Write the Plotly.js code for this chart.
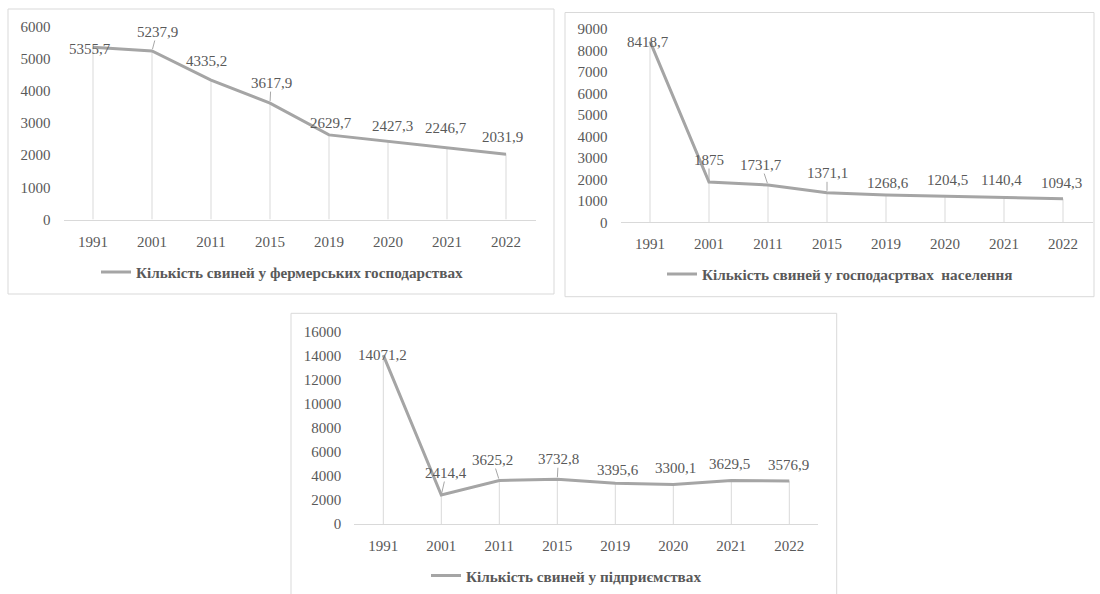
<!DOCTYPE html>
<html>
<head>
<meta charset="utf-8">
<script src="https://cdn.plot.ly/plotly-3.0.1.min.js"></script>
<style>
  html, body { margin: 0; padding: 0; background: #ffffff; }
  #chart { width: 1100px; height: 594px; }
</style>
</head>
<body>
<div id="chart"></div>
<script>
// ---- Data ----
const years = ['1991', '2001', '2011', '2015', '2019', '2020', '2021', '2022'];
const farmPigs = [5355.7, 5237.9, 4335.2, 3617.9, 2629.7, 2427.3, 2246.7, 2031.9];
const householdPigs = [8418.7, 1875, 1731.7, 1371.1, 1268.6, 1204.5, 1140.4, 1094.3];
const enterprisePigs = [14071.2, 2414.4, 3625.2, 3732.8, 3395.6, 3300.1, 3629.5, 3576.9];
const seriesNames = [
  'Кількість свиней у фермерських господарствах',
  'Кількість свиней у господасртвах\u00a0 населення',
  'Кількість свиней у підприємствах'
];
const yMax = [6000, 9000, 16000];
const yStep = [1000, 1000, 2000];

// ---- Styling / placement (pixels in a 1100x594 page) ----
const W = 1100, H = 594;
const FONT = '"Liberation Serif", "Times New Roman", serif';
const TXT = '#595959';
const LINE = '#a5a5a5';
const GRID = '#d9d9d9';

const panels = [
  { x0: 63.5, x1: 535.5, yBottom: 219.5, yTop: 26.5,
    box: [8, 9, 554, 294], legend: [96, 272],
    offsets: [[-3, 2], [5, -19], [-5, -19], [1, -20], [2, -12], [4, -15], [-1, -19], [-4, -17]],
    leaders: [0, 1, 0, 1, 0, 0, 0, 0] },
  { x0: 620.5, x1: 1092.5, yBottom: 222.3, yTop: 28.8,
    box: [565, 12.5, 1094, 296.7], legend: [662, 274],
    offsets: [[-2, 1], [0, -22], [-6.6, -20], [0, -19.5], [2, -12], [2, -16], [-2.5, -18], [-2, -16]],
    leaders: [0, 1, 1, 1, 0, 0, 0, 0] },
  { x0: 354.3, x1: 818.3, yBottom: 524, yTop: 332,
    box: [291, 313.3, 836.7, 610], legend: [426, 575.7],
    offsets: [[-1, 0], [5, -22], [-6.4, -20.5], [1, -20], [2.6, -13], [1.7, -16.7], [-1.7, -16], [-0.7, -16]],
    leaders: [0, 1, 1, 1, 0, 0, 0, 0] }
];

const seriesValues = [farmPigs, householdPigs, enterprisePigs];
const fmt = v => String(v).replace('.', ',');

const traces = [];
const annotations = [];
const shapes = [];
const layout = {
  width: W, height: H,
  margin: { l: 0, r: 0, t: 0, b: 0, pad: 0 },
  paper_bgcolor: '#ffffff',
  plot_bgcolor: 'rgba(0,0,0,0)',
  font: { family: FONT, size: 15, color: TXT },
  showlegend: true,
  annotations: annotations,
  shapes: shapes
};

panels.forEach((p, i) => {
  const sfx = i === 0 ? '' : String(i + 1);
  const xa = 'x' + sfx, ya = 'y' + sfx;
  const legendKey = 'legend' + sfx;
  const vals = seriesValues[i];

  traces.push({
    type: 'scatter', mode: 'lines',
    x: years, y: vals,
    xaxis: xa, yaxis: ya,
    name: seriesNames[i],
    legend: legendKey,
    line: { color: LINE, width: 3 },
    error_y: {
      type: 'data', symmetric: false,
      array: vals.map(() => 0), arrayminus: vals,
      color: GRID, thickness: 1, width: 0
    },
    hoverinfo: 'x+y'
  });

  layout['xaxis' + sfx] = {
    domain: [p.x0 / W, p.x1 / W],
    anchor: ya,
    type: 'category',
    range: [-0.5, years.length - 0.5],
    showline: true, linecolor: GRID, linewidth: 1,
    showgrid: false, zeroline: false, ticks: '',
    ticklabelstandoff: 8,
    tickfont: { family: FONT, size: 15, color: TXT },
    fixedrange: true
  };
  layout['yaxis' + sfx] = {
    domain: [(H - p.yBottom) / H, (H - p.yTop) / H],
    anchor: xa,
    range: [0, yMax[i]],
    dtick: yStep[i], tick0: 0, tickformat: 'd',
    showline: false, showgrid: false, zeroline: false, ticks: '',
    ticklabelstandoff: 12,
    tickfont: { family: FONT, size: 15, color: TXT },
    fixedrange: true
  };
  layout[legendKey] = {
    x: p.legend[0] / W, y: (H - p.legend[1]) / H,
    xanchor: 'left', yanchor: 'middle',
    orientation: 'h',
    bgcolor: 'rgba(0,0,0,0)', borderwidth: 0,
    font: { family: FONT, size: 15.2, color: TXT, weight: 'bold' }
  };

  shapes.push({
    type: 'rect', xref: 'paper', yref: 'paper',
    x0: p.box[0] / W, x1: p.box[2] / W,
    y0: (H - p.box[3]) / H, y1: (H - p.box[1]) / H,
    line: { color: GRID, width: 1 }, fillcolor: 'rgba(0,0,0,0)', layer: 'below'
  });

  vals.forEach((v, k) => {
    annotations.push({
      xref: xa, yref: ya, x: k, y: v,   // category index k on the category axis
      text: fmt(v),
      showarrow: true, arrowhead: 0, arrowwidth: 1, standoff: 2,
      arrowcolor: p.leaders[k] ? '#a6a6a6' : 'rgba(0,0,0,0)',
      ax: p.offsets[k][0], ay: p.offsets[k][1],
      axref: 'pixel', ayref: 'pixel',
      xanchor: 'center', yanchor: 'middle',
      font: { family: FONT, size: 15, color: TXT },
      borderpad: 0
    });
  });
});

Plotly.newPlot('chart', traces, layout, { displayModeBar: false, staticPlot: true });
</script>
</body>
</html>
